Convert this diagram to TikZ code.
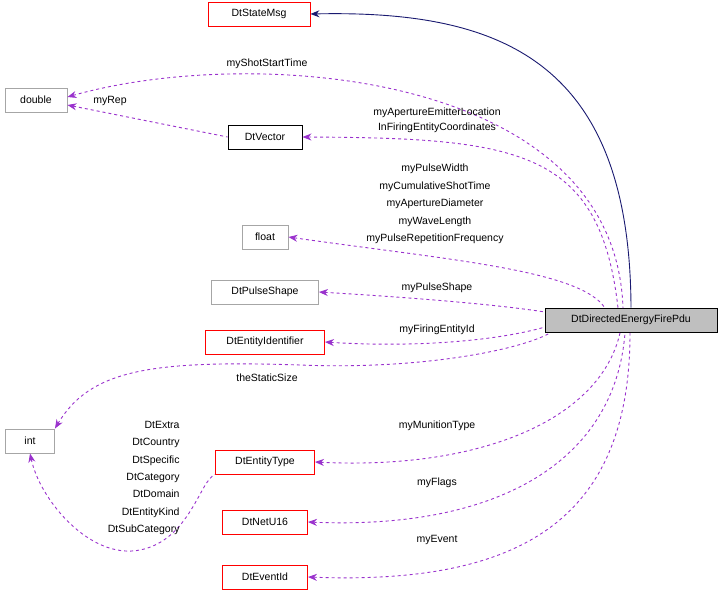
\documentclass[tikz,border=0pt]{standalone}
\usepackage{fontspec}
\setmainfont{Liberation Sans}
\usetikzlibrary{arrows.meta}
\definecolor{dep}{HTML}{9A32CD}
\definecolor{inh}{HTML}{191970}
\begin{document}
\begin{tikzpicture}[x=1pt,y=-1pt,font=\fontsize{10.5}{12}\selectfont,line width=0.9pt,
 box/.style={draw,minimum height=24pt,inner sep=3pt,fill=white,line width=0.9pt},
 red/.style={box,draw=red},
 gray/.style={box,draw=black!35},
 use/.style={dep,dashed,{Stealth[length=9pt,width=7pt]}-},
 lbl/.style={align=center,inner sep=0pt}]
\useasboundingbox (0,0) rectangle (723,591);
\node[red,minimum width=102pt] (sm) at (259,14) {DtStateMsg};
\node[gray,minimum width=62pt] (dbl) at (36,100) {double};
\node[box,minimum width=74pt] (vec) at (265,137) {DtVector};
\node[gray,minimum width=46pt] (flt) at (265,237) {float};
\node[gray,minimum width=107pt] (ps) at (265,292) {DtPulseShape};
\node[red,minimum width=119pt] (eid) at (265,342) {DtEntityIdentifier};
\node[gray,minimum width=49pt] (int) at (30,441) {int};
\node[red,minimum width=99pt] (et) at (265,462) {DtEntityType};
\node[red,minimum width=85pt] (nu) at (265,522) {DtNetU16};
\node[red,minimum width=85pt] (ev) at (265,577) {DtEventId};
\node[box,fill=black!25,minimum width=172pt] (pdu) at (631,320) {DtDirectedEnergyFirePdu};

\draw[inh,{Stealth[length=9pt,width=7pt]}-] (sm.east) .. controls (500,10) and (630,60) .. (pdu.north);
\draw[use] (dbl.east) ++(0,-3) .. controls (250,45) and (615,70) .. (623,308);
\draw[use] (dbl.east) ++(0,5) -- (vec.west);
\draw[use] (vec.east) .. controls (520,138) and (600,150) .. (618,308);
\draw[use] (flt.east) .. controls (450,260) and (580,270) .. (605,308);
\draw[use] (ps.east) .. controls (420,298) and (500,305) .. (545,312);
\draw[use] (eid.east) .. controls (420,348) and (500,340) .. (545,327);
\draw[use] (int.north east) .. controls (90,370) and (150,360) .. (300,365) .. controls (420,370) and (520,350) .. (550,333);
\draw[use] (et.east) .. controls (480,470) and (600,420) .. (620,333);
\draw[use] (nu.east) .. controls (500,530) and (615,460) .. (625,333);
\draw[use] (ev.east) .. controls (520,585) and (630,520) .. (630,333);
\draw[use] (int.south) .. controls (40,500) and (90,560) .. (140,550) .. controls (190,540) and (200,480) .. (et.south west);

\node[lbl] at (267,64) {myShotStartTime};
\node[lbl] at (110,101) {myRep};
\node[lbl,font=\fontsize{10.5}{15}\selectfont] at (437,120) {myApertureEmitterLocation\\InFiringEntityCoordinates};
\node[lbl,font=\fontsize{10.5}{17.5}\selectfont] at (435,204) {myPulseWidth\\myCumulativeShotTime\\myApertureDiameter\\myWaveLength\\myPulseRepetitionFrequency};
\node[lbl] at (437,288) {myPulseShape};
\node[lbl] at (437,330) {myFiringEntityId};
\node[lbl] at (267,378) {theStaticSize};
\node[lbl] at (437,426) {myMunitionType};
\node[lbl] at (437,483) {myFlags};
\node[lbl] at (437,540) {myEvent};
\node[lbl,align=right,font=\fontsize{10.5}{17.3}\selectfont,anchor=east] at (180,478) {DtExtra\\DtCountry\\DtSpecific\\DtCategory\\DtDomain\\DtEntityKind\\DtSubCategory};
\end{tikzpicture}
\end{document}
